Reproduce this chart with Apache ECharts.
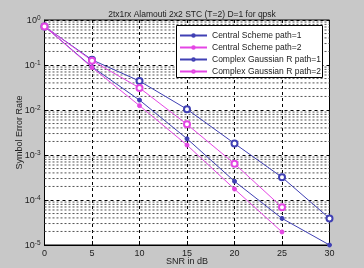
<!DOCTYPE html>
<html><head><meta charset="utf-8">
<script src="https://cdn.jsdelivr.net/npm/echarts@6/dist/echarts.min.js"></script>
<style>html,body{margin:0;padding:0;background:#c8c8c8}#c{width:364px;height:268px}</style>
</head><body><div id="c"></div>
<script>
const snr = [0, 5, 10, 15, 20, 25, 30];
const central1 = [0.72, 0.091, 0.0166, 0.0023, 0.00026, 3.9e-5, 1.0e-5];
const central2 = [0.72, 0.088, 0.0125, 0.00166, 0.000175, 1.95e-5];
const complex1 = [0.72, 0.13, 0.044, 0.0104, 0.0018, 0.00032, 3.9e-5];
const complex2 = [0.72, 0.125, 0.031, 0.0048, 0.00064, 6.9e-5];
const names = ['Central Scheme path=1','Central Scheme path=2','Complex Gaussian R path=1','Complex Gaussian R path=2'];
const titleText = '2tx1rx Alamouti 2x2 STC (T=2) D=1 for qpsk';

const minorVals = [];
for (let d = -5; d < 0; d++) for (let k = 2; k <= 9; k++) minorVals.push(k * Math.pow(10, d));

const BLUE = '#4040b4', MAG = '#e446e4';
const FONT = '"Liberation Sans", Arial, sans-serif';
function pts(arr){ return arr.map((v,i)=>[snr[i], v]); }
function ser(name, arr, color, sym){
  return {name, type:'line', data: pts(arr), color,
    symbol: sym === 'star' ? 'circle' : 'emptyCircle',
    symbolSize: sym === 'star' ? 4 : 6,
    lineStyle:{width:1, color}, itemStyle:{color, borderColor: color, borderWidth:1},
    z: 5, animation:false};
}
const chart = echarts.init(document.getElementById('c'));
chart.setOption({
  animation:false,
  backgroundColor:'#c8c8c8',
  title:{text:titleText, left:187, textAlign:'center', top:5,
    textStyle:{fontSize:8.5, fontWeight:'normal', color:'#222', fontFamily:FONT}},
  graphic:[{type:'rect', left:176, top:25, z:90, silent:true,
    shape:{width:146, height:52}, style:{fill:'#fff', stroke:'#000', lineWidth:1}}],
  legend:{orient:'vertical', left:176, top:25, z:100,
    padding:[6,4,3,3], itemWidth:27, itemHeight:3, itemGap:3,
    textStyle:{fontSize:8.5, color:'#222', fontFamily:FONT},
    data:names},
  grid:{left:44.5, right:34.5, top:20, bottom:23, show:true, backgroundColor:'#fff', borderColor:'#000', borderWidth:1,
    containLabel:false, outerBoundsMode:'none'},
  xAxis:{type:'value', min:0, max:30, interval:5, name:'SNR in dB', nameLocation:'middle', nameGap:12, nameMoveOverlap:false,
    nameTextStyle:{fontSize:9, color:'#222', fontFamily:FONT},
    axisLine:{lineStyle:{color:'#000'}}, axisTick:{inside:true, length:4, lineStyle:{color:'#000'}},
    axisLabel:{fontSize:9, color:'#222', fontFamily:FONT, margin:4},
    splitLine:{show:true, lineStyle:{type:[3,3], color:'#000', width:1}}},
  yAxis:{type:'log', logBase:10, min:1e-5, max:1, name:'Symbol Error Rate', nameLocation:'middle', nameGap:20, nameMoveOverlap:false,
    nameTextStyle:{fontSize:9, color:'#222', fontFamily:FONT},
    axisLine:{lineStyle:{color:'#000'}}, axisTick:{inside:true, length:4, lineStyle:{color:'#000'}},
    axisLabel:{color:'#222', fontFamily:FONT, margin:4,
      formatter:function(v){ const e = Math.round(Math.log10(v)); return '{b|10}{s|' + e + '}'; },
      rich:{b:{fontSize:9, fontFamily:FONT, color:'#222', verticalAlign:'bottom', lineHeight:10},
            s:{fontSize:6.5, fontFamily:FONT, color:'#222', verticalAlign:'top', lineHeight:6}}},
    splitLine:{show:true, lineStyle:{type:[3,3], color:'#000', width:1}}},
  series:[
    {type:'custom', name:'minor', silent:true, z:1, data: minorVals.map(v=>[0, v]),
      renderItem:function(params, api){
        const y = api.value(1);
        const p0 = api.coord([0, y]), p1 = api.coord([30, y]);
        return {type:'line', shape:{x1:p0[0], y1:p0[1], x2:p1[0], y2:p1[1]},
          style:{stroke:'#555', lineWidth:1, lineDash:[2,2]}};
      }},
    ser(names[0], central1, BLUE, 'star'),
    ser(names[1], central2, MAG, 'star'),
    ser(names[2], complex1, BLUE, 'circ'),
    ser(names[3], complex2, MAG, 'circ')
  ]
});
</script></body></html>
